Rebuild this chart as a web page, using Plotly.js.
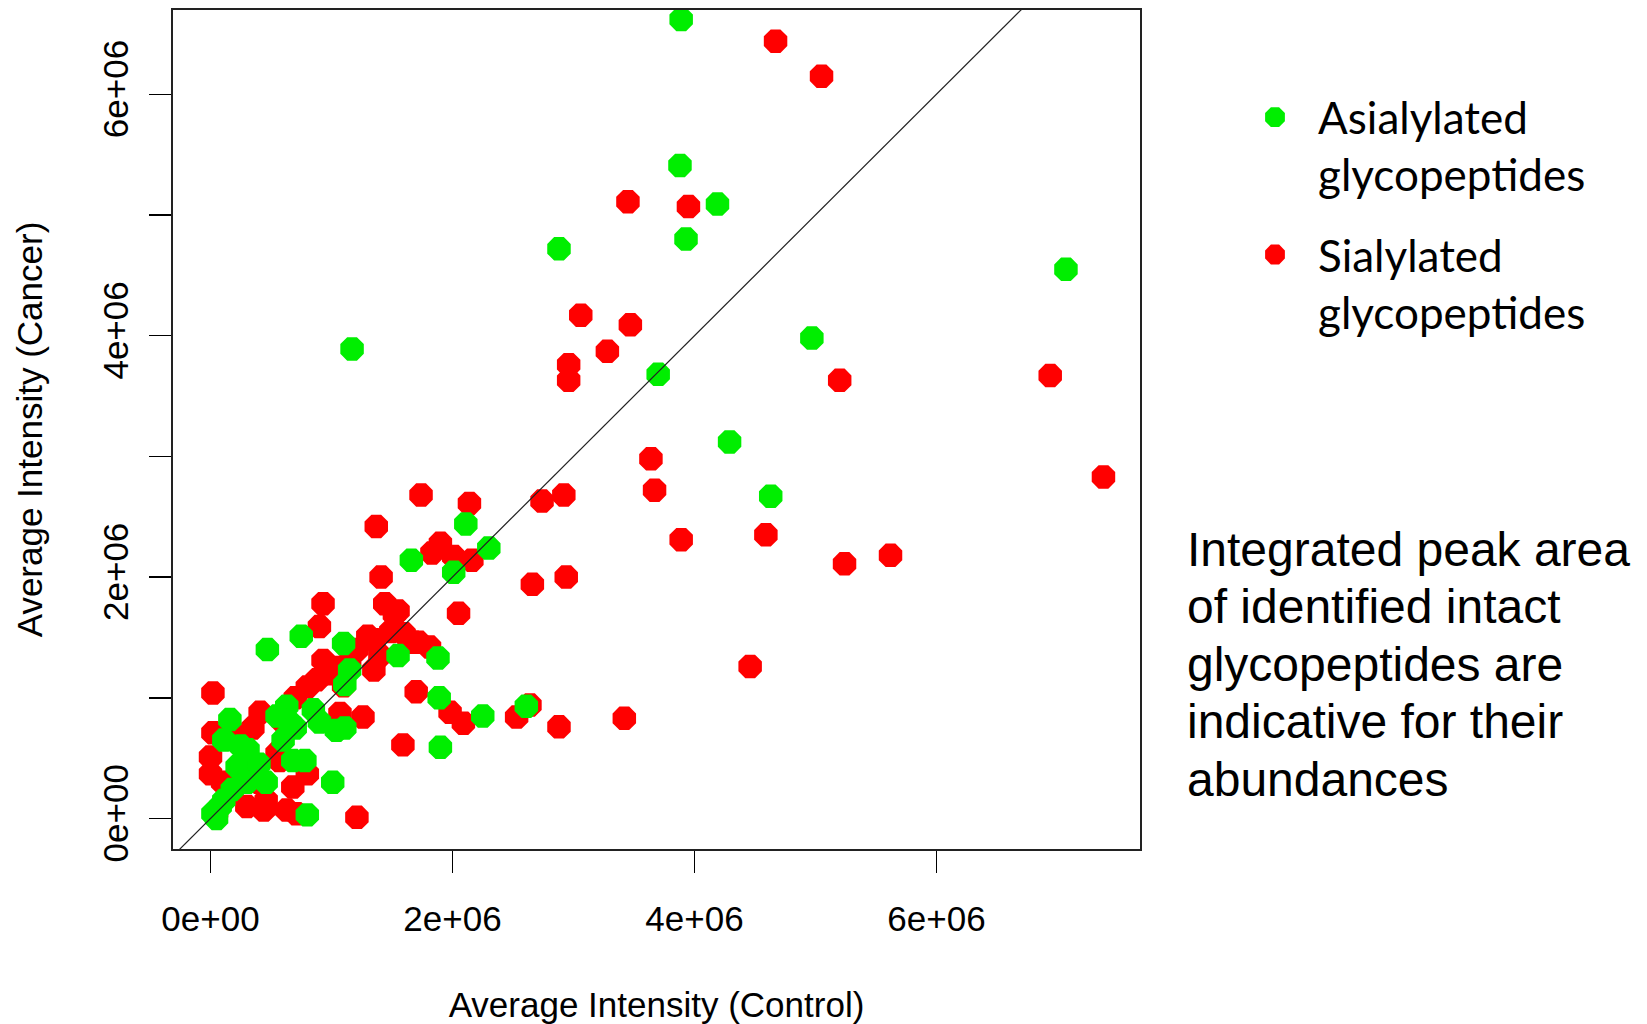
<!DOCTYPE html>
<html>
<head>
<meta charset="utf-8">
<script src="https://cdn.plot.ly/plotly-3.0.1.min.js"></script>
<style>
html,body{margin:0;padding:0;background:#fff;}
#chart{width:1647px;height:1024px;}
</style>
</head>
<body>
<div id="chart"></div>
<script>
// Sialylated glycopeptides (red): Average Intensity Control (x) vs Cancer (y)
const sialylatedControl = [
  4.67e6, 5.05e6, 3.45e6, 3.95e6, 3.06e6, 3.47e6, 3.28e6, 2.96e6, 2.96e6, 5.20e6,
  6.94e6, 7.38e6, 3.64e6, 3.67e6, 2.92e6, 2.74e6, 3.89e6, 4.59e6, 5.62e6, 5.24e6,
  4.46e6, 3.42e6, 2.88e6, 2.66e6, 2.94e6, 2.05e6, 2.14e6, 1.74e6, 1.37e6, 1.90e6,
  1.83e6, 2.01e6, 2.16e6, 1.41e6, 1.44e6, 1.52e6, 0.93e6, 0.90e6, 1.30e6, 1.35e6,
  1.49e6, 1.60e6, 1.68e6, 1.81e6, 0.93e6, 1.35e6, 0.88e6, 0.80e6, 0.02e6, 1.70e6,
  1.21e6, 1.05e6, 1.10e6, 0.41e6, 1.98e6, 2.09e6, 2.53e6, 2.64e6, 1.26e6, 1.07e6,
  1.59e6, 0.02e6, 0.00e6, 0.00e6, 1.21e6, 0.71e6, 0.44e6, 0.30e6, 0.55e6, 0.46e6,
  0.80e6, 0.63e6, 0.68e6, 0.57e6, 0.20e6, 0.35e6, 0.60e6, 0.70e6, 0.25e6, 0.10e6,
  0.40e6, 1.15e6, 1.40e6, 0.05e6, 0.15e6, 1.72e6, 1.55e6, 0.97e6
];
const sialylatedCancer = [
  6.44e6, 6.15e6, 5.11e6, 5.07e6, 4.17e6, 4.09e6, 3.87e6, 3.76e6, 3.63e6, 3.63e6,
  3.67e6, 2.83e6, 2.98e6, 2.72e6, 2.68e6, 2.63e6, 2.31e6, 2.35e6, 2.18e6, 2.11e6,
  1.26e6, 0.83e6, 0.76e6, 1.94e6, 2.00e6, 1.70e6, 2.61e6, 2.68e6, 2.42e6, 2.28e6,
  2.20e6, 2.17e6, 2.14e6, 2.00e6, 1.78e6, 1.69e6, 1.78e6, 1.59e6, 1.51e6, 1.48e6,
  1.55e6, 1.53e6, 1.46e6, 1.42e6, 1.31e6, 1.23e6, 1.15e6, 1.09e6, 1.04e6, 1.05e6,
  1.40e6, 1.25e6, 1.10e6, 0.88e6, 0.88e6, 0.79e6, 0.84e6, 0.94e6, 0.84e6, 0.87e6,
  0.61e6, 0.71e6, 0.51e6, 0.37e6, 0.01e6, 0.04e6, 0.07e6, 0.10e6, 0.54e6, 0.15e6,
  0.37e6, 0.07e6, 0.26e6, 0.48e6, 0.70e6, 0.75e6, 0.80e6, 1.00e6, 0.40e6, 0.30e6,
  0.30e6, 1.30e6, 1.35e6, 0.05e6, 0.20e6, 1.46e6, 1.72e6, 1.20e6
];

// Asialylated glycopeptides (green)
const asialylatedControl = [
  3.89e6, 3.88e6, 4.19e6, 3.93e6, 2.88e6, 1.17e6, 7.07e6, 4.97e6, 3.70e6, 4.29e6,
  4.63e6, 2.11e6, 2.30e6, 1.66e6, 2.01e6, 0.75e6, 0.47e6, 1.10e6, 1.55e6, 1.88e6,
  1.15e6, 1.11e6, 0.16e6, 0.11e6, 0.63e6, 0.85e6, 1.04e6, 1.11e6, 1.89e6, 2.25e6,
  2.61e6, 1.90e6, 1.01e6, 0.80e6, 0.31e6, 0.22e6, 0.46e6, 0.68e6, 0.78e6, 0.02e6,
  0.11e6, 0.18e6, 0.05e6, 0.70e6, 0.55e6, 0.30e6, 0.40e6, 0.25e6, 0.90e6, 0.60e6,
  0.08e6, 0.66e6
];
const asialylatedCancer = [
  6.62e6, 5.41e6, 5.09e6, 4.80e6, 4.72e6, 3.89e6, 4.55e6, 3.98e6, 3.68e6, 3.12e6,
  2.67e6, 2.44e6, 2.24e6, 2.14e6, 2.04e6, 1.51e6, 1.40e6, 1.45e6, 1.35e6, 1.33e6,
  1.23e6, 1.11e6, 0.82e6, 0.65e6, 0.93e6, 0.90e6, 0.73e6, 0.75e6, 1.00e6, 0.85e6,
  0.93e6, 0.59e6, 0.30e6, 0.03e6, 0.57e6, 0.43e6, 0.30e6, 0.48e6, 0.48e6, 0.04e6,
  0.15e6, 0.24e6, 0.00e6, 0.75e6, 0.85e6, 0.30e6, 0.45e6, 0.60e6, 0.80e6, 0.65e6,
  0.10e6, 0.79e6
];

const xTickVals = [0, 2e6, 4e6, 6e6];
const xTickText = ['0e+00', '2e+06', '4e+06', '6e+06'];
const yTickVals = [0, 1e6, 2e6, 3e6, 4e6, 5e6, 6e6];
const yTickText = ['0e+00', '', '2e+06', '', '4e+06', '', '6e+06'];

const seriesNames = ['Asialylated<br>glycopeptides', 'Sialylated<br>glycopeptides'];
const noteLines = ['Integrated peak area', 'of identified intact', 'glycopeptides are', 'indicative for their', 'abundances'];

// plot area in pixels
const L = 173, R = 1140, T = 10, B = 849, W = 1647, H = 1024;
const px2x = p => (p - L) / (R - L);
const px2y = p => (B - p) / (B - T);

const axisFont = {family: 'Liberation Sans, Arial, sans-serif', size: 35, color: '#000'};

const traces = [
  {
    type: 'scatter', mode: 'markers', name: seriesNames[1],
    x: sialylatedControl, y: sialylatedCancer,
    marker: {symbol: 'octagon', size: 20, color: '#ff0000', line: {width: 5, color: '#ff0000'}},
    legendgroup: 's', legendrank: 2
  },
  {
    type: 'scatter', mode: 'markers', name: seriesNames[0],
    x: asialylatedControl, y: asialylatedCancer,
    marker: {symbol: 'octagon', size: 20, color: '#00ee00', line: {width: 5, color: '#00ee00'}},
    legendgroup: 'a', legendrank: 1
  }
];

const annotations = noteLines.map((t, i) => ({
  xref: 'paper', yref: 'paper',
  x: px2x(1185), y: px2y(549 + i * 57.5),
  xanchor: 'left', yanchor: 'middle',
  text: t, showarrow: false, align: 'left',
  font: {family: 'Liberation Sans, Arial, sans-serif', size: 48, color: '#000'}
}));

const layout = {
  width: W, height: H,
  margin: {l: L, r: W - R, t: T, b: H - B, pad: 0},
  paper_bgcolor: '#fff', plot_bgcolor: '#fff',
  showlegend: true,
  legend: {
    x: px2x(1232), y: px2y(82), xanchor: 'left', yanchor: 'top',
    font: {family: 'Lato, Carlito, sans-serif', size: 44, color: '#000'},
    itemwidth: 76, valign: 'top', tracegroupgap: 20,
    bgcolor: 'rgba(0,0,0,0)', borderwidth: 0
  },
  xaxis: {
    range: [-0.31e6, 7.682e6], autorange: false,
    tickmode: 'array', tickvals: xTickVals, ticktext: xTickText,
    ticks: 'outside', ticklen: 22, tickwidth: 1.5, tickcolor: '#000',
    ticklabelstandoff: 16,
    showline: true, linecolor: '#222', linewidth: 2, mirror: true,
    showgrid: false, zeroline: false,
    tickfont: axisFont,
    title: {text: 'Average Intensity (Control)', font: axisFont, standoff: 57}
  },
  yaxis: {
    range: [-0.2527e6, 6.698e6], autorange: false,
    tickmode: 'array', tickvals: yTickVals, ticktext: yTickText,
    ticks: 'outside', ticklen: 22, tickwidth: 1.5, tickcolor: '#000',
    tickangle: -90, ticklabelstandoff: 7,
    showline: true, linecolor: '#222', linewidth: 2, mirror: true,
    showgrid: false, zeroline: false,
    tickfont: axisFont,
    title: {text: 'Average Intensity (Cancer)', font: axisFont, standoff: 43}
  },
  shapes: [{
    type: 'line', xref: 'x', yref: 'y', layer: 'above',
    x0: -1e6, y0: -1e6, x1: 9e6, y1: 9e6,
    line: {color: '#222', width: 1.2}
  }],
  annotations: annotations
};

Plotly.newPlot('chart', traces, layout, {displayModeBar: false, staticPlot: true});
</script>
</body>
</html>
